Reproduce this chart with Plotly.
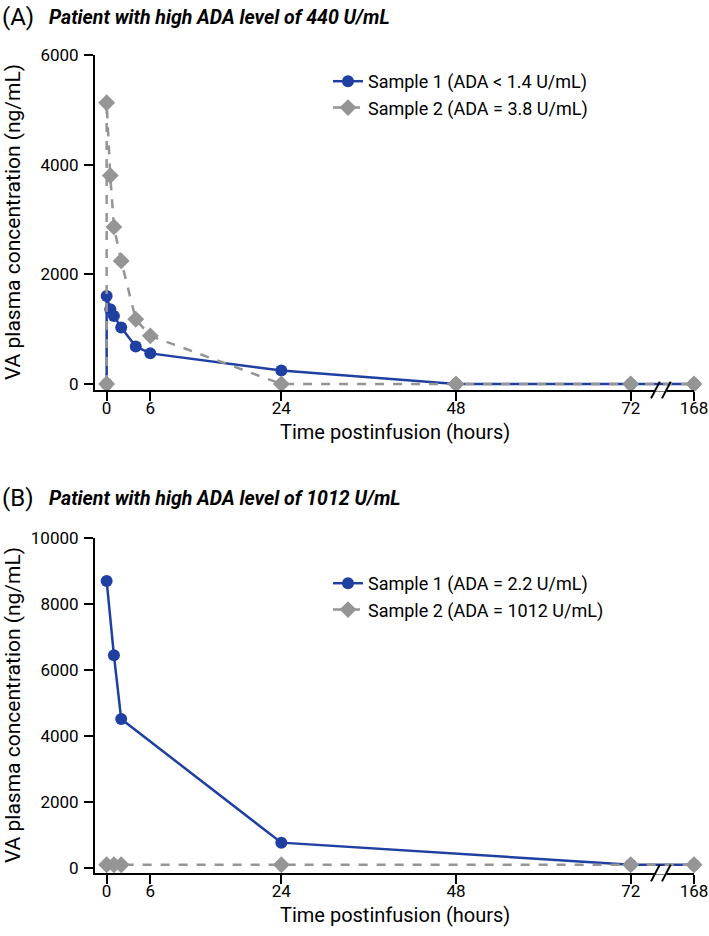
import plotly.graph_objects as go

# ---------------- data ----------------
tick_hours = [0, 6, 24, 48, 72, 168]
tick_labels = ["0", "6", "24", "48", "72", "168"]
a_yticks = [0, 2000, 4000, 6000]
b_yticks = [0, 2000, 4000, 6000, 8000, 10000]

# Panel A
a_s1_hours = [0, 0, 0.5, 1, 2, 4, 6, 24, 48, 72, 168]
a_s1_conc = [0, 1605, 1365, 1240, 1030, 685, 558, 245, 0, 0, 0]
a_s2_hours = [0, 0, 0.5, 1, 2, 4, 6, 24, 48, 72, 168]
a_s2_conc = [0, 5130, 3800, 2865, 2245, 1180, 878, 0, 0, 0, 0]

# Panel B
b_s1_hours = [0, 1, 2, 24, 72, 168]
b_s1_conc = [8700, 6450, 4515, 770, 100, 100]
b_s2_hours = [0, 1, 2, 24, 72, 168]
b_s2_conc = [100, 100, 100, 100, 100, 100]

a_title = "Patient with high ADA level of 440 U/mL"
b_title = "Patient with high ADA level of 1012 U/mL"
a_names = ["Sample 1 (ADA < 1.4 U/mL)", "Sample 2 (ADA = 3.8 U/mL)"]
b_names = ["Sample 1 (ADA = 2.2 U/mL)", "Sample 2 (ADA = 1012 U/mL)"]
x_title = "Time postinfusion (hours)"
y_title = "VA plasma concentration (ng/mL)"

# ---------------- broken axis mapping (72 -> 168 compressed) ----------------
BREAK_POS = 80.7  # display position of the 168 h tick


def brk(t):
    return t if t <= 72 else BREAK_POS


def brk_list(ts):
    return [brk(t) for t in ts]


BLUE = "#1f40a2"
GRAY = "#959595"
FONT = "Roboto, sans-serif"

W, H = 709, 936
ML, MT = 95, 55
MR = W - 694
MB = H - 873
PW, PH = W - ML - MR, H - MT - MB


def px_x(p):
    return (p - ML) / PW


def px_y(p):
    return (H - MB - p) / PH


fig = go.Figure()


def add_series(xs, ys, name, color, dash, symbol, size, xa, ya, legend):
    fig.add_trace(go.Scatter(
        x=brk_list(xs), y=ys, name=name, mode="lines+markers",
        line=dict(color=color, width=2.5, dash=dash),
        marker=dict(color=color, symbol=symbol, size=size),
        xaxis=xa, yaxis=ya, legend=legend, cliponaxis=False,
    ))


add_series(a_s1_hours, a_s1_conc, a_names[0], BLUE, "solid", "circle", 12, "x", "y", "legend")
add_series(a_s2_hours, a_s2_conc, a_names[1], GRAY, "dash", "diamond", 13, "x", "y", "legend")
add_series(b_s1_hours, b_s1_conc, b_names[0], BLUE, "solid", "circle", 12, "x2", "y2", "legend2")
add_series(b_s2_hours, b_s2_conc, b_names[1], GRAY, "dash", "diamond", 13, "x2", "y2", "legend2")

tickvals = brk_list(tick_hours)
xcommon = dict(
    range=[-1.6, BREAK_POS], tickvals=tickvals, ticktext=tick_labels,
    showline=True, linecolor="black", linewidth=2, ticks="outside",
    ticklen=9, tickwidth=2, tickcolor="black", showgrid=False, zeroline=False,
    tickfont=dict(family=FONT, size=17, color="black"),
    ticklabeloverflow="allow", ticklabelstandoff=-7,
    automargin=False,
)
ycommon = dict(
    showline=True, linecolor="black", linewidth=2, ticks="outside",
    ticklen=9, tickwidth=2, tickcolor="black", showgrid=False, zeroline=False,
    tickfont=dict(family=FONT, size=17, color="black"), tickformat="d",
    ticklabelstandoff=2,
    automargin=False,
)

top_dom = [px_y(390), 1.0]
bot_dom = [0.0, px_y(538)]

leg = dict(xanchor="left", yanchor="top",
           font=dict(family=FONT, size=18, color="black"),
           bgcolor="rgba(0,0,0,0)", tracegroupgap=0, itemwidth=30)

fig.update_layout(
    width=W, height=H,
    margin=dict(l=ML, r=MR, t=MT, b=MB),
    paper_bgcolor="white", plot_bgcolor="white",
    font=dict(family=FONT, color="black"),
    xaxis=dict(**xcommon, anchor="y", domain=[0, 1]),
    yaxis=dict(**ycommon, anchor="x", domain=top_dom, range=[-110, 6000],
               tickvals=a_yticks),
    xaxis2=dict(**xcommon, anchor="y2", domain=[0, 1]),
    yaxis2=dict(**ycommon, anchor="x2", domain=bot_dom, range=[-150, 10000],
                tickvals=b_yticks),
    legend=dict(**leg, x=px_x(328), y=px_y(63)),
    legend2=dict(**leg, x=px_x(328), y=px_y(565)),
    showlegend=True,
)

# Panel titles
for label, title, ypix in [("(A)", a_title, 17), ("(B)", b_title, 498)]:
    fig.add_annotation(text=label, xref="paper", yref="paper",
                       x=px_x(0), y=px_y(ypix), xanchor="left", yanchor="middle",
                       showarrow=False, font=dict(family=FONT, size=24, color="black"))
    fig.add_annotation(text="<b><i>" + title + "</i></b>", xref="paper", yref="paper",
                       x=px_x(47), y=px_y(ypix), xanchor="left", yanchor="middle",
                       showarrow=False, font=dict(family=FONT, size=19.5, color="black"))

# Axis titles
for xc, yc in [(395, 432), (395, 915)]:
    fig.add_annotation(text=x_title, xref="paper", yref="paper",
                       x=px_x(xc), y=px_y(yc), xanchor="center", yanchor="middle",
                       showarrow=False, font=dict(family=FONT, size=20, color="black"))
for yc in [222, 705]:
    fig.add_annotation(text=y_title, xref="paper", yref="paper", textangle=-90,
                       x=px_x(13), y=px_y(yc), xanchor="center", yanchor="middle",
                       showarrow=False, font=dict(family=FONT, size=21, color="black"))

# Axis break marks
for xr, yr in [("x", "y domain"), ("x2", "y2 domain")]:
    fig.add_shape(type="line", xref=xr, yref=yr, x0=75.3, x1=77.0, y0=0, y1=0,
                  line=dict(color="white", width=3))
    for xc in [75.4, 76.9]:
        fig.add_shape(type="line", xref=xr, yref=yr, x0=xc - 0.6, x1=xc + 0.6,
                      y0=-0.025, y1=0.025, line=dict(color="black", width=2))

# Remove the default 8px page margin so the 709x936 figure fills the window.
fig.write_html("out.html",
               config={"displayModeBar": False},
               post_script="document.body.style.margin='0';document.body.style.overflow='hidden';")
